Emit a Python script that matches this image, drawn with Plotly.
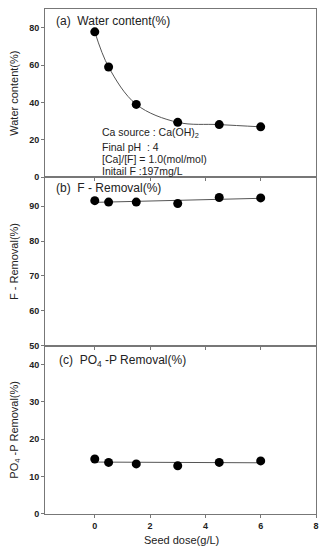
import numpy as np
import plotly.graph_objects as go
from plotly.subplots import make_subplots

seed_dose = [0, 0.5, 1.5, 3, 4.5, 6]
water_content = [77.8, 59.0, 39.0, 29.4, 28.2, 27.0]
f_removal = [91.6, 91.2, 91.2, 90.8, 92.5, 92.4]
po4_removal = [14.7, 13.8, 13.4, 12.9, 13.8, 14.2]

W, H = 324, 547
ML, MR, MT, MB = 45, 8, 9, 33
PW, PH = W - ML - MR, H - MT - MB

def px(x):
    return (x - ML) / PW

def py(y):
    return (H - MB - y) / PH

fig = make_subplots(rows=3, cols=1, shared_xaxes=True, vertical_spacing=0)

mk = dict(color="black", size=9)
ln = dict(color="#555", width=1)

fig.add_trace(go.Scatter(x=seed_dose, y=water_content, mode="lines", line=dict(color="#555", width=1, shape="spline", smoothing=1.0)), row=1, col=1)
fig.add_trace(go.Scatter(x=seed_dose, y=water_content, mode="markers", marker=mk), row=1, col=1)

for r, vals in ((2, f_removal), (3, po4_removal)):
    m, b = np.polyfit(seed_dose, vals, 1)
    xs = [seed_dose[0], seed_dose[-1]]
    fig.add_trace(go.Scatter(x=xs, y=[m * x + b for x in xs], mode="lines", line=ln), row=r, col=1)
    fig.add_trace(go.Scatter(x=seed_dose, y=vals, mode="markers", marker=mk), row=r, col=1)

tickfont = dict(family="Liberation Sans, Arial", size=9, color="#222", weight="bold")
axcommon = dict(showline=True, mirror=True, linecolor="#777", linewidth=1, ticks="outside",
                ticklen=3, tickcolor="#777", showgrid=False, zeroline=False, tickfont=tickfont,
                automargin=False)

fig.update_xaxes(range=[-1.8, 8], tickvals=[0, 2, 4, 6, 8], **axcommon)
fig.update_xaxes(showticklabels=False, row=1, col=1)
fig.update_xaxes(showticklabels=False, row=2, col=1)

titfont = dict(family="Liberation Sans, Arial", size=11, color="#222")
fig.update_yaxes(range=[0, 90], tickvals=[0, 20, 40, 60, 80], title=dict(text="Water content(%)", font=titfont, standoff=8), row=1, col=1, **axcommon)
fig.update_yaxes(range=[50, 98.3], tickvals=[50, 60, 70, 80, 90], title=dict(text="F - Removal(%)", font=titfont, standoff=8), row=2, col=1, **axcommon)
fig.update_yaxes(range=[0, 45], tickvals=[0, 10, 20, 30, 40], title=dict(text="PO<sub>4</sub> -P Removal(%)", font=titfont, standoff=8), row=3, col=1, **axcommon)

annfont = dict(family="Liberation Sans, Arial", size=12, color="#222")
anns = [
    ("(a)  Water content(%)", 54, 21),
    ("(b)  F - Removal(%)", 54, 188),
    ("(c)  PO<sub>4</sub> -P Removal(%)", 57, 361),
]
infofont = dict(family="Liberation Sans, Arial", size=10.5, color="#222")
info = [
    ("Ca source : Ca(OH)<sub>2</sub>", 100, 133),
    ("Final pH  : 4", 100, 147),
    ("[Ca]/[F] = 1.0(mol/mol)", 100, 159),
    ("Initail F :197mg/L", 100, 171),
]
for text, x, y in anns:
    fig.add_annotation(text=text, x=px(x), y=py(y), xref="paper", yref="paper", xanchor="left", yanchor="middle", showarrow=False, font=annfont)
for text, x, y in info:
    fig.add_annotation(text=text, x=px(x), y=py(y), xref="paper", yref="paper", xanchor="left", yanchor="middle", showarrow=False, font=infofont)

fig.add_annotation(text="Seed dose(g/L)", x=px(181), y=py(539.5), xref="paper", yref="paper",
                   xanchor="center", yanchor="middle", showarrow=False, font=titfont)

fig.update_layout(width=W, height=H, margin=dict(l=ML, r=MR, t=MT, b=MB), showlegend=False,
                  paper_bgcolor="white", plot_bgcolor="white")

fig.write_html("out.html")
